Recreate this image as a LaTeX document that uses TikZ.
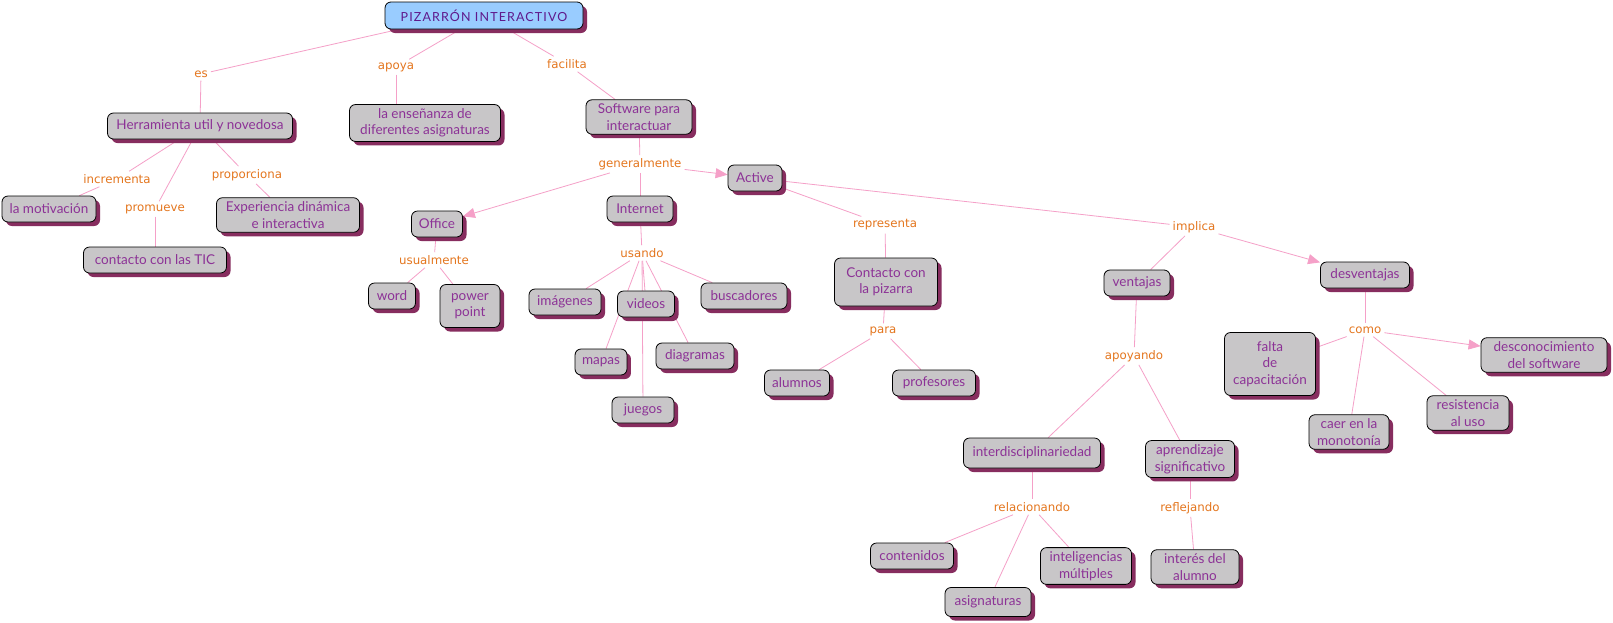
\documentclass[tikz,border=0pt]{standalone}
\usepackage{fontspec}
\setmainfont{Lato}
\newfontfamily\labfont{DejaVu Sans}
\newfontfamily\titlefont[LetterSpace=9]{Lato}
\usetikzlibrary{shadows,arrows.meta}
\definecolor{boxgray}{RGB}{200,198,200}
\definecolor{titleblue}{RGB}{153,204,255}
\definecolor{txtpurple}{RGB}{140,50,150}
\definecolor{titlepurple}{RGB}{95,25,140}
\definecolor{shadowred}{RGB}{135,45,95}
\definecolor{laborange}{RGB}{228,118,30}
\definecolor{linkpink}{RGB}{245,160,200}
\pgfdeclarelayer{bg}
\pgfsetlayers{bg,main}
\begin{document}
\begin{tikzpicture}[x=1pt,y=-1pt,
  concept/.style={draw=black, line width=0.8pt, rounded corners=6pt, fill=boxgray,
    text=txtpurple, font=\fontsize{13.5}{16.5}\selectfont, align=center,
    inner xsep=7pt, inner ysep=4pt, minimum height=26pt,
    drop shadow={shadow xshift=4pt, shadow yshift=-4pt, fill=shadowred, opacity=1}},
  titlebox/.style={concept, fill=titleblue, text=titlepurple, font=\titlefont\fontsize{12.5}{14}\selectfont},
  lab/.style={text=laborange, font=\labfont\fontsize{11.8}{14}\selectfont, inner sep=3pt},
  link/.style={draw=linkpink, line width=0.8pt},
  arr/.style={link, -{Triangle[length=12pt,width=10pt]}}]
\useasboundingbox (0,0) rectangle (1613,622);

% concepts
\node[titlebox, minimum width=198pt, minimum height=27pt] (piz) at (484,15.5) {PIZARRÓN INTERACTIVO};
\node[concept, minimum width=185pt] (herr) at (200,126) {Herramienta util y novedosa};
\node[concept, minimum width=151pt] (ens) at (425,123) {la enseñanza de\\diferentes asignaturas};
\node[concept, minimum width=106pt] (soft) at (639,117) {Software para\\interactuar};
\node[concept, minimum width=54pt] (active) at (755,178) {Active};
\node[concept, minimum width=51pt] (office) at (437,224) {Office};
\node[concept, minimum width=66pt] (internet) at (640,209) {Internet};
\node[concept, minimum width=94pt] (motiv) at (49,209) {la motivación};
\node[concept, minimum width=143pt] (exp) at (288,215) {Experiencia dinámica\\e interactiva};
\node[concept, minimum width=143pt] (tic) at (155,260) {contacto con las TIC};
\node[concept, minimum width=47pt] (word) at (392,296) {word};
\node[concept, minimum width=60pt, minimum height=43pt] (power) at (470,306) {power\\point};
\node[concept, minimum width=72pt] (imag) at (565,302) {imágenes};
\node[concept, minimum width=57pt] (videos) at (646,304) {videos};
\node[concept, minimum width=86pt] (busc) at (744,296) {buscadores};
\node[concept, minimum width=50pt] (mapas) at (601,362) {mapas};
\node[concept, minimum width=78pt] (diag) at (695,356) {diagramas};
\node[concept, minimum width=62pt] (juegos) at (643,410) {juegos};
\node[concept, minimum width=103pt, minimum height=48pt] (contacto) at (886,282) {Contacto con\\la pizarra};
\node[concept, minimum width=65pt] (alumnos) at (797,383) {alumnos};
\node[concept, minimum width=83pt] (prof) at (934,383) {profesores};
\node[concept, minimum width=66pt] (ventajas) at (1137,283) {ventajas};
\node[concept, minimum width=89pt] (desv) at (1365,275) {desventajas};
\node[concept, minimum width=91pt, minimum height=63pt] (falta) at (1270,364) {falta\\de\\capacitación};
\node[concept, minimum width=126pt] (descon) at (1544,355) {desconocimiento\\del software};
\node[concept, minimum width=80pt] (caer) at (1349,432) {caer en la\\monotonía};
\node[concept, minimum width=82pt] (resist) at (1468,413) {resistencia\\al uso};
\node[concept, minimum width=137pt, minimum height=30pt] (interd) at (1032,453) {interdisciplinariedad};
\node[concept, minimum width=89pt] (aprend) at (1190,459) {aprendizaje\\significativo};
\node[concept, minimum width=83pt] (conten) at (912,556) {contenidos};
\node[concept, minimum width=86pt, minimum height=29pt] (asign) at (988,602) {asignaturas};
\node[concept, minimum width=91pt] (intel) at (1086,566) {inteligencias\\múltiples};
\node[concept, minimum width=88pt] (interes) at (1195,567) {interés del\\alumno};

% linking phrases
\node[lab] (es) at (201,74) {es};
\node[lab] (apoya) at (396,67) {apoya};
\node[lab] (facilita) at (567,64) {facilita};
\node[lab] (incrementa) at (117,179) {incrementa};
\node[lab] (promueve) at (155,209) {promueve};
\node[lab] (proporciona) at (247,175) {proporciona};
\node[lab] (generalmente) at (640,164) {generalmente};
\node[lab] (usualmente) at (434,260) {usualmente};
\node[lab] (usando) at (642,253) {usando};
\node[lab] (representa) at (885,225) {representa};
\node[lab] (para) at (883,331) {para};
\node[lab] (implica) at (1194,227) {implica};
\node[lab] (como) at (1365,330) {como};
\node[lab] (apoyando) at (1134,356) {apoyando};
\node[lab] (relacionando) at (1032,507) {relacionando};
\node[lab] (reflejando) at (1190,508) {reflejando};

\begin{pgfonlayer}{bg}
\fill[white] (0,0) rectangle (1613,622);
\draw[link] ([xshift=14pt]piz.south west) -- (es);
\draw[link] (es) -- (herr);
\draw[link] (piz) -- (apoya);
\draw[link] (apoya) -- (apoya |- ens.north);
\draw[link] (piz) -- (facilita);
\draw[link] (facilita) -- (soft);
\draw[link] (herr) -- (incrementa);
\draw[link] (incrementa) -- (motiv);
\draw[link] (herr) -- (promueve);
\draw[link] (promueve) -- (tic);
\draw[link] (herr) -- (proporciona);
\draw[link] (proporciona) -- (exp);
\draw[link] (soft) -- (generalmente);
\draw[arr] (generalmente) -- (office);
\draw[arr] (generalmente) -- (active);
\draw[link] (generalmente) -- (internet);
\draw[link] (office) -- (usualmente);
\draw[link] (usualmente) -- (word);
\draw[link] (usualmente) -- (power);
\draw[link] (internet) -- (usando);
\draw[link] (usando) -- (imag);
\draw[link] (usando) -- (videos);
\draw[link] (usando) -- (mapas);
\draw[link] (usando) -- (juegos);
\draw[link] (usando) -- (diag);
\draw[link] (usando) -- (busc);
\draw[link] (active) -- (representa);
\draw[link] (representa) -- (contacto);
\draw[link] (contacto) -- (para);
\draw[link] (para) -- (alumnos);
\draw[link] (para) -- (prof);
\draw[link] (active) -- (implica);
\draw[link] (implica) -- (ventajas);
\draw[arr] (implica) -- (desv);
\draw[link] (ventajas) -- (apoyando);
\draw[link] (apoyando) -- (interd);
\draw[link] (apoyando) -- (aprend);
\draw[link] (interd) -- (relacionando);
\draw[link] (relacionando) -- (conten);
\draw[link] (relacionando) -- (asign);
\draw[link] (relacionando) -- (intel);
\draw[link] (aprend) -- (reflejando);
\draw[link] (reflejando) -- (interes);
\draw[link] (desv) -- (como);
\draw[link] (como) -- (falta);
\draw[arr] (como) -- (descon);
\draw[link] (como) -- (caer);
\draw[link] (como) -- (resist);
\end{pgfonlayer}
\end{tikzpicture}
\end{document}
